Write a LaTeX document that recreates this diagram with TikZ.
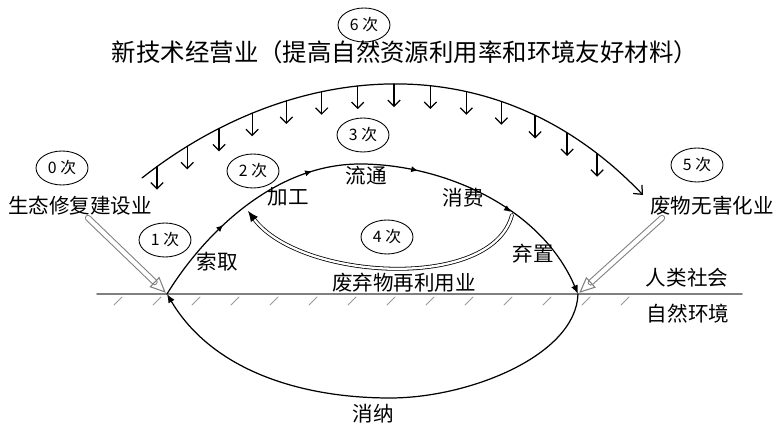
\documentclass[tikz,border=0pt]{standalone}
\usepackage{fontspec}
\setmainfont{Noto Sans CJK SC}
\usetikzlibrary{shapes.geometric,arrows.meta,decorations.markings}

\tikzset{
  times/.style={ellipse, draw, line width=0.5pt, minimum width=1.04cm, minimum height=0.68cm, inner sep=0pt, font=\fontsize{9}{9}\selectfont},
  lab/.style={inner sep=0pt, font=\fontsize{11.7}{12}\selectfont},
  title/.style={inner sep=0pt, font=\fontsize{13.9}{14}\selectfont},
  ground/.style={draw=gray, line width=1.1pt},
  hatch/.style={draw=gray!80, line width=0.5pt},
  flow/.style={draw, line width=0.7pt, -{Latex[length=5pt,width=4pt]},
    postaction={decorate}, decoration={markings,
      mark=at position 0.175 with {\arrow{Latex[length=4pt,width=3.5pt]}},
      mark=at position 0.38 with {\arrow{Latex[length=4pt,width=3.5pt]}},
      mark=at position 0.59 with {\arrow{Latex[length=4pt,width=3.5pt]}},
      mark=at position 0.79 with {\arrow{Latex[length=4pt,width=3.5pt]}}}},
  back/.style={draw, line width=0.7pt, -{Latex[length=5pt,width=4pt]}},
  reuse/.style={draw, double, double distance=1.3pt, line width=0.45pt, -{Latex[length=6pt,width=5pt]}},
  hollow/.style={draw=gray, double=white, double distance=2.4pt, line width=0.6pt, -{Triangle[open,length=9pt,width=8pt]}, shorten >=1pt},
  arc/.style={draw, line width=0.7pt, -{Straight Barb[length=4pt,width=7pt]},
    postaction={decorate}, decoration={markings,
      mark=between positions 0.034 and 0.89 step 0.0657 with {\pgftransformresetnontranslations
        \draw[line width=0.7pt, -{Straight Barb[length=3.5pt,width=7pt]}] (0,0) -- (0,23);}}}
}

\begin{document}
\begin{tikzpicture}[x=0.02cm, y=-0.02cm, line cap=round]
\useasboundingbox (0,0) rectangle (775,428);

%% points
\coordinate (g1) at (97,294);    %% ground left
\coordinate (g2) at (742,294);   %% ground right
\coordinate (L) at (167,294);    %% take in
\coordinate (R) at (578,294);    %% throw out
\coordinate (T) at (360,164);    %% top of cycle
\coordinate (B) at (390,398);    %% bottom of cycle
\coordinate (S) at (512,215);    %% reuse start
\coordinate (E) at (248,211);    %% reuse end
\coordinate (w0) at (142,178);   %% outer arc left
\coordinate (w1) at (643,195);   %% outer arc right
\coordinate (h0) at (88,218);
\coordinate (h5) at (662,218);

%% ground
\draw[ground] (g1) -- (g2);
\foreach \x in {118,157,...,630} \draw[hatch] (\x-4,305) -- (\x+4,297);

%% times
\node[times] (t0) at (62,168) {0 次};
\node[times] (t1) at (165,240) {1 次};
\node[times] (t2) at (253,171) {2 次};
\node[times] (t3) at (363,135) {3 次};
\node[times] (t4) at (387,237) {4 次};
\node[times] (t5) at (697,165) {5 次};
\node[times] (t6) at (364,25) {6 次};

%% labels
\node[title] (tech) at (405,52) {新技术经营业（提高自然资源利用率和环境友好材料）};
\node[lab] (eco) at (80,206) {生态修复建设业};
\node[lab] (take) at (217,262) {索取};
\node[lab] (proc) at (288,197) {加工};
\node[lab] (circ) at (366,176) {流通};
\node[lab] (cons) at (463,198) {消费};
\node[lab] (reu) at (404,283) {废弃物再利用业};
\node[lab] (dump) at (533,254) {弃置};
\node[lab] (waste) at (712,206) {废物无害化业};
\node[lab] (soc) at (687,278) {人类社会};
\node[lab] (nat) at (688,314) {自然环境};
\node[lab] (abs) at (373,414) {消纳};

%% cycle
\draw[flow] (L) .. controls (200,240) and (270,164) .. (T) .. controls (440,164) and (540,205) .. (R);
\draw[back] (R) .. controls (576,355) and (470,398) .. (B) .. controls (300,398) and (212,370) .. (L);
\draw[reuse] (S) .. controls (492,292) and (300,280) .. (E);

%% industries
\draw[hollow] (h0) -- (L);
\draw[hollow] (h5) -- (R);
\draw[arc] (w0) .. controls (285,65) and (490,35) .. (w1);
\end{tikzpicture}
\end{document}
